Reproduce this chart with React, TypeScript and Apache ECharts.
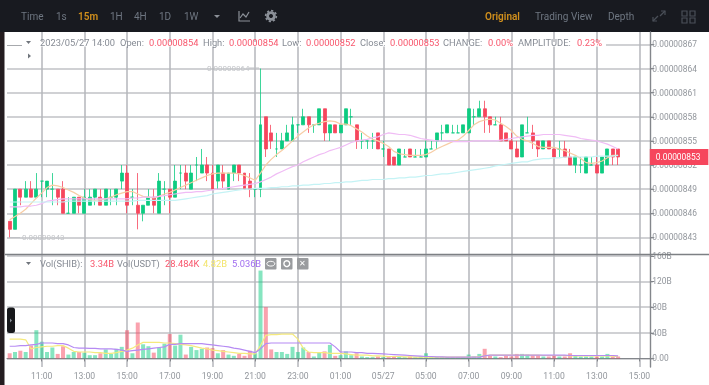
import React, { useEffect, useRef } from "react";
import * as echarts from "echarts";

// Price values are in units of 0.00000001. Rows: [open, close, low, high]
const candles: number[][] = [
  [845,844,843,845],[844,849,844,849],[849,848,847,849],[848,849,848,850],[849,848,848,850],
  [848,849,848,851],[850,850,848,850],[849,850,848,850],[849,849,847,851],[849,848,847,849],
  [849,846,846,850],[846,846,846,848],[846,848,846,848],[848,847,846,848],[846,848,846,849],
  [847,848,847,849],[848,849,847,849],[848,847,847,849],[847,849,847,849],[848,848,847,849],
  [848,849,847,849],[850,851,849,852],[851,847,846,852],[848,848,847,849],[847,846,844,851],
  [846,847,845,847],[847,848,847,849],[848,847,846,849],[846,850,846,851],[849,849,847,850],
  [849,848,846,849],[848,850,848,852],[851,851,849,852],[851,850,849,852],[849,851,849,852],
  [852,852,850,853],[851,852,851,854],[852,851,850,853],[851,849,849,852],[850,852,849,852],
  [851,850,849,852],[849,851,849,851],[851,852,850,852],[852,851,850,852],[851,849,849,851],
  [850,849,848,851],[849,849,848,849],[849,857,848,864],[858,854,853,858],[856,855,854,857],
  [854,854,853,856],[854,855,854,856],[855,856,855,857],[855,857,855,858],[857,857,856,857],
  [857,858,857,859],[858,857,856,858],[857,857,856,857],[857,859,857,859],[859,856,855,859],
  [856,857,855,857],[857,856,856,857],[856,857,856,857],[857,859,857,859],[858,858,857,859],
  [857,855,854,857],[855,855,854,856],[855,855,854,855],[855,855,854,856],[856,854,854,856],
  [854,854,853,855],[854,852,852,854],[853,852,852,853],[852,854,852,854],[853,853,853,854],
  [854,853,853,854],[853,853,853,854],[853,853,853,854],[853,854,853,855],[854,854,854,855],
  [855,856,854,856],[856,856,855,857],[856,857,856,857],[856,856,856,857],[856,856,856,857],
  [856,857,856,857],[856,859,856,859],[858,858,857,859],[858,859,858,860],[859,858,856,860],
  [858,857,856,858],[857,857,857,858],[857,855,855,858],[856,855,855,856],[855,854,854,856],
  [854,853,853,855],[853,857,853,857],[856,856,856,858],[856,855,854,857],[855,854,853,855],
  [854,855,854,855],[855,854,854,855],[854,853,853,854],[854,854,853,855],[854,853,853,855],
  [853,852,852,854],[852,853,851,853],[852,852,851,853],[851,853,851,853],[852,852,852,853],
  [852,851,851,853],[851,853,851,853],[852,854,852,854],[854,853,852,854],[854,853,852,854],
];

const ma7 = [
  845.2,845.6,846,846.5,847.2,847.9,848.5,849.2,849.5,849.4,
  849.2,848.9,848.6,848.2,847.9,847.7,847.6,847.7,847.8,848,
  848.3,848.5,848.7,848.7,848.4,848.1,848,847.9,848.1,848.4,
  848.6,848.9,849.2,849.5,849.8,850.1,850.4,850.7,850.9,851,
  851,851,851,850.9,850.7,850.4,850.1,851,852,852.7,
  853.3,853.8,854.4,855,855.6,856.1,856.6,857,857.2,857.4,
  857.5,857.4,857.1,857.1,856.9,856.5,856.1,855.6,855.2,855,
  854.7,854.3,853.7,853.4,853.3,853.2,853.2,853.2,853.3,853.6,
  854,854.3,854.6,854.9,855.1,855.6,856.3,857,857.4,857.6,
  857.7,857.6,857.2,856.8,856.3,855.6,855.2,855,854.7,854.3,
  854.2,854.2,854.2,854,853.8,853.5,853.2,852.8,852.3,852.2,
  852.3,852.5,852.9,853.2,853.2,
];
const ma25 = [
  846.8,846.8,846.8,846.9,846.9,847,847.2,847.5,847.6,847.7,
  847.8,847.8,847.8,847.8,847.8,847.8,847.8,847.8,847.8,847.8,
  847.8,847.8,847.8,847.9,847.9,848,848,848,848.1,848.2,
  848.3,848.4,848.5,848.6,848.6,848.7,848.7,848.8,848.9,849,
  849.1,849.2,849.3,849.4,849.5,849.6,849.7,849.9,850.2,850.5,
  850.9,851.2,851.5,851.8,852,852.4,852.7,853,853.3,853.5,
  853.8,854,854.2,854.5,854.8,855,855.1,855.2,855.4,855.5,
  855.8,856,855.9,855.8,855.8,855.7,855.5,855.3,855.2,855.1,
  855,855,855,854.9,854.9,854.9,854.9,855,855,855,
  855,855,855.1,855.2,855.3,855.4,855.5,855.6,855.7,855.7,
  855.8,855.8,855.8,855.8,855.7,855.6,855.5,855.3,855.2,855.1,
  855,854.8,854.6,854.3,854,
];
const ma99 = [
  847.4,847.4,847.4,847.4,847.4,847.4,847.4,847.4,847.4,847.4,
  847.4,847.5,847.5,847.5,847.5,847.5,847.5,847.5,847.5,847.5,
  847.5,847.5,847.5,847.5,847.6,847.6,847.6,847.6,847.6,847.6,
  847.6,847.6,847.7,847.8,847.9,848,848.1,848.2,848.4,848.5,
  848.6,848.7,848.8,848.9,849,849,849.1,849.1,849.1,849.2,
  849.2,849.3,849.3,849.4,849.4,849.5,849.5,849.6,849.6,849.7,
  849.7,849.8,849.8,849.9,849.9,850,850.1,850.1,850.2,850.2,
  850.2,850.3,850.3,850.4,850.4,850.5,850.5,850.6,850.7,850.7,
  850.8,850.9,850.9,851,851.1,851.2,851.3,851.4,851.5,851.6,
  851.7,851.9,852,852.1,852.2,852.3,852.4,852.4,852.6,852.7,
  852.8,852.8,852.9,852.9,853,853,853,853,853,853,
  853.1,853.1,853.1,853.1,853.2,
];

// Volumes, in billions
const volumes = [
  8,10,12,10,20,44,26,10,17,7,
  19,6,10,10,9,5,5,8,14,7,
  15,18,44,8,56,22,19,9,17,23,
  38,20,37,6,18,13,15,17,16,8,
  13,6,4,7,4,12,8,137,80,14,
  10,10,7,18,10,17,10,3,10,11,
  21,4,5,11,5,8,3,2,2,3,
  2,2,3,3,2,3,2,3,8,2,
  2,2,2,2,2,2,6,3,7,15,
  4,3,2,4,3,7,7,6,5,5,
  3,3,5,3,3,8,5,3,3,3,
  3,3,7,3,3,
];
const volAvgA = [
  30,30,30,29,15,17,18,19,19,20,
  20,16,11,10,10,10,9,9,8,8,
  9,11,13,16,21,25,25,25,25,24,
  24,23,22,21,20,18,16,15,13,12,
  11,10,9,8,8,7,7,20,36,37,
  37,38,38,38,30,16,10,9,9,9,
  8,8,8,7,6,5,5,5,4,4,
  3.5,3,3,3,2.5,2.5,2,2,2,2,
  2,2,2,2,2,2,2,2,3,4,
  5,5,5,5,5,5,5,5,5,5,
  4.5,4.5,4.5,4.5,4.5,4,4,4,4,4,
  4,4,4,3.5,3,
];
const volAvgB = [
  19,19,20,20,21,22,24,24,24,23,
  23,21,17,16,16,15.5,15.5,15,15,15,
  14,13,11,12,13,14,15,16,17,18,
  22,22,23,23,23,23,23,22,21,20,
  19,18,16,15,13,11,9,15,23,24,
  24,24,24,24,24,24,24,24,24,24,
  24,18,10,10,10,9,9,8,8,7.5,
  7,6.5,6,5.5,5,4.5,4,3.5,3,3,
  2.5,2.5,2,2,2,2,2,2,2,4,
  5,5,5,5,5,5,5,5,5,5,
  5,5,5,5,5,4.5,4.5,4.5,4.5,4.5,
  4.5,4.5,4.5,4.5,4,
];

const priceTicks = [843, 846, 849, 852, 855, 858, 861, 864, 867];
const volumeTicks = [0, 40, 80, 120, 160];
const lastPrice = 853;
const toolbarLeft: [string, number, boolean][] = [
  ["Time", 21, false], ["1s", 56, false], ["15m", 78, true], ["1H", 110, false],
  ["4H", 134, false], ["1D", 159, false], ["1W", 184, false],
];
const toolbarRight: [string, number, boolean][] = [
  ["Original", 485, true], ["Trading View", 535, false], ["Depth", 608, false],
];
const RED_TXT = "#f8566c";
const GREY_TXT = "#868b94";
const headerTexts: [string, number, string][] = [
  ["2023/05/27 14:00", 40, GREY_TXT], ["Open:", 120, GREY_TXT], ["0.00000854", 149, RED_TXT],
  ["High:", 203, GREY_TXT], ["0.00000854", 229, RED_TXT], ["Low:", 282, GREY_TXT],
  ["0.00000852", 306, RED_TXT], ["Close:", 360, GREY_TXT], ["0.00000853", 390, RED_TXT],
  ["CHANGE:", 443, GREY_TXT], ["0.00%", 488, RED_TXT], ["AMPLITUDE:", 518, GREY_TXT], ["0.23%", 577, RED_TXT],
];
const volumeTexts: [string, number, string][] = [
  ["Vol(SHIB):", 40, GREY_TXT], ["3.34B", 90, RED_TXT], ["Vol(USDT)", 117, GREY_TXT],
  ["28.484K", 165, RED_TXT], ["4.82B", 203, "#f3e56b"], ["5.036B", 232, "#a06cf0"],
];

// 09:30 onward, one category per 15 minutes; the picture's axis shows the date in place of 03:00
const categories = Array.from({ length: 121 }, (_, i) => {
  const m = 9 * 60 + 30 + i * 15;
  const hh = String(Math.floor(m / 60) % 24).padStart(2, "0");
  const mm = String(m % 60).padStart(2, "0");
  const t = `${hh}:${mm}`;
  return t === "03:00" ? "05/27" : t;
});
const isMajor = (i: number) => i >= 6 && (i - 6) % 8 === 0;

const GREEN = "#0ecb81";
const RED = "#f6465d";
const FONT = "Roboto, sans-serif";
const GRID_V = "#b4b6bb";
const GRID_H = "#c0c2c6";
const AXIS = "#83868b";
const AXIS_TXT = "#92969c";

const txt = (text: string, x: number, y: number, fill: string, size = 9.3, weight: any = 400, extra: any = {}) => ({
  type: "text", x, y, z: 50, silent: true,
  style: { text, fill, fontSize: size, fontWeight: weight, fontFamily: FONT, textVerticalAlign: "middle", verticalAlign: "middle", ...extra },
});

function buildGraphics() {
  const g: any[] = [];
  g.push({ type: "rect", z: -5, shape: { x: 0, y: 0, width: 709, height: 32 }, style: { fill: "#181a20" } });
  g.push({ type: "rect", z: -5, shape: { x: 0, y: 32, width: 4.5, height: 353 }, style: { fill: "#241d20" } });
  toolbarLeft.forEach(([t, x, on]) => g.push(txt(t, x, 16, on ? "#d08f1c" : "#6e7681", 10, on ? 600 : 400)));
  toolbarRight.forEach(([t, x, on]) => g.push(txt(t, x, 16, on ? "#d08f1c" : "#6e7681", 10, on ? 600 : 400)));
  const icon = { stroke: "#8b9098", lineWidth: 1.2, fill: "none" };
  g.push({ type: "polygon", shape: { points: [[214, 15], [220, 15], [217, 18]] }, style: { fill: "#8b9098" } });
  g.push({ type: "polyline", shape: { points: [[239, 11], [239, 21], [250, 21]] }, style: icon });
  g.push({ type: "polyline", shape: { points: [[240, 18], [243, 14], [246, 17], [249, 12]] }, style: icon });
  g.push({ type: "ring", shape: { cx: 271, cy: 16, r: 4.8, r0: 2 }, style: { fill: "#8b9098" } });
  g.push({ type: "circle", shape: { cx: 271, cy: 16, r: 5.4 }, style: { fill: "none", stroke: "#8b9098", lineWidth: 1.6, lineDash: [2.2, 2] } });
  const dim = { stroke: "#4a4f58", lineWidth: 1.2, fill: "none" };
  g.push({ type: "line", shape: { x1: 653, y1: 21, x2: 658, y2: 16 }, style: dim });
  g.push({ type: "polyline", shape: { points: [[653, 17], [653, 21], [657, 21]] }, style: dim });
  g.push({ type: "line", shape: { x1: 660, y1: 16, x2: 665, y2: 11 }, style: dim });
  g.push({ type: "polyline", shape: { points: [[661, 11], [665, 11], [665, 15]] }, style: dim });
  [[682, 11], [690, 11], [682, 18], [690, 18]].forEach(([x, y]) =>
    g.push({ type: "rect", shape: { x, y, width: 5, height: 5 }, style: dim }));

  // header row
  g.push({ type: "rect", z: 40, shape: { x: 7, y: 42, width: 599, height: 4.5 }, style: { fill: "#fff" } });
  g.push({ type: "line", z: 41, shape: { x1: 7, y1: 45.5, x2: 22, y2: 45.5 }, style: { stroke: "#a7a9ad", lineWidth: 1 } });
  g.push({ type: "polygon", z: 41, shape: { points: [[26, 41], [31, 41], [28.5, 44]] }, style: { fill: "#70757c" } });
  g.push({ type: "polygon", z: 41, shape: { points: [[28, 53.5], [31, 56], [28, 58.5]] }, style: { fill: "#70757c" } });
  headerTexts.forEach(([t, x, c]) => g.push(txt(t, x, 42, c)));
  g.push(txt("0.00000864", 207, 68, "#c4c6ca", 8));
  g.push({ type: "line", z: 41, shape: { x1: 249, y1: 68, x2: 259, y2: 68 }, style: { stroke: "#bfc1c5", lineWidth: 1 } });
  g.push({ type: "line", z: 41, shape: { x1: 10, y1: 237.5, x2: 20, y2: 237.5 }, style: { stroke: "#bfc1c5", lineWidth: 1 } });
  g.push(txt("0.00000843", 22, 237.5, "#c4c6ca", 8));

  // separator between panes
  g.push({ type: "line", z: 41, shape: { x1: 5, y1: 254.5, x2: 709, y2: 254.5 }, style: { stroke: "#7d8084", lineWidth: 1.6 } });

  // volume header row
  g.push({ type: "polygon", z: 41, shape: { points: [[26, 262], [31, 262], [28.5, 265]] }, style: { fill: "#70757c" } });
  volumeTexts.forEach(([t, x, c]) => g.push(txt(t, x, 263, c)));
  [265, 281, 297].forEach((x) =>
    g.push({ type: "rect", z: 41, shape: { x, y: 258, width: 11.5, height: 11.5, r: 1 }, style: { fill: "#9a9c9f" } }));
  g.push({ type: "ellipse", z: 42, shape: { cx: 270.8, cy: 263.7, rx: 4, ry: 2.4 }, style: { fill: "none", stroke: "#fff", lineWidth: 1 } });
  g.push({ type: "ring", z: 42, shape: { cx: 286.8, cy: 263.7, r: 3.6, r0: 2.2 }, style: { fill: "#fff" } });
  g.push(txt("✕", 302.8, 263.8, "#ffffff", 8, 400, { textAlign: "center" }));

  // collapse handle
  g.push({ type: "rect", z: 41, shape: { x: 7, y: 307.5, width: 8, height: 25.5, r: 2.5 }, style: { fill: "#17181b" } });
  g.push({ type: "polygon", z: 42, shape: { points: [[10, 318.5], [12, 320.5], [10, 322.5]] }, style: { fill: "#8b9098" } });
  return g;
}

const priceLabel = (v: number) => (v * 1e-8).toFixed(8);
const volLabel = (v: number) => (v === 0 ? "0.00" : `${v}B`);

const candleData = candles.map((c) =>
  c[0] === c[1]
    ? { value: c, itemStyle: { color: GREEN, color0: GREEN, borderColor: GREEN, borderColor0: GREEN } }
    : { value: c });
const volumeData = volumes.map((v, i) => ({
  value: v,
  itemStyle: { color: candles[i][1] >= candles[i][0] ? GREEN : RED, opacity: 0.5 },
}));

const lineSeries = (data: number[], color: string, axis: number, width = 1.2) => ({
  type: "line", data, xAxisIndex: axis, yAxisIndex: axis, showSymbol: false, silent: true,
  lineStyle: { color, width }, itemStyle: { color }, z: 5,
});

export default function App() {
  const ref = useRef<HTMLDivElement>(null);
  useEffect(() => {
    document.body.style.margin = "0";
    const chart = echarts.init(ref.current!, null, { renderer: "svg" });
    chart.setOption({
      animation: false,
      backgroundColor: "#ffffff",
      textStyle: { fontFamily: FONT },
      graphic: buildGraphics(),
      grid: [
        { left: 7, top: 32, width: 645.8, height: 222.5 },
        { left: 7, top: 255, width: 645.8, height: 112 },
      ],
      xAxis: [0, 1].map((idx) => ({
        type: "category", gridIndex: idx, data: categories, boundaryGap: true,
        axisLine: { show: idx === 1, lineStyle: { color: AXIS, width: 1.2 } },
        axisTick: { show: idx === 1, alignWithLabel: true, interval: (i: number) => isMajor(i), length: 3, lineStyle: { color: AXIS } },
        axisLabel: { show: idx === 1, interval: (i: number) => isMajor(i), color: AXIS_TXT, fontSize: 8.6, margin: 4, fontFamily: FONT, hideOverlap: false },
        splitLine: { show: true, alignWithLabel: true, interval: (i: number) => isMajor(i), lineStyle: { color: GRID_V, width: 1.5 } },
      })),
      yAxis: [
        {
          type: "value", gridIndex: 0, position: "right", offset: -2.5, min: 840.87, max: 868.55, scale: true,
          axisLine: { show: true, lineStyle: { color: AXIS, width: 1.4 } },
          axisTick: { show: true, length: 4, customValues: priceTicks, lineStyle: { color: AXIS } },
          axisLabel: { customValues: priceTicks, formatter: priceLabel, color: AXIS_TXT, fontSize: 8.4, margin: 2, fontFamily: FONT },
          splitLine: { show: true, lineStyle: { color: GRID_H, width: 1.5 } },
        },
        {
          type: "value", gridIndex: 1, position: "right", offset: -2.5, min: -13.4, max: 161.3,
          axisLine: { show: true, lineStyle: { color: AXIS, width: 1.4 } },
          axisTick: { show: true, length: 4, customValues: volumeTicks, lineStyle: { color: AXIS } },
          axisLabel: { customValues: volumeTicks, formatter: volLabel, color: AXIS_TXT, fontSize: 8.4, margin: 2, fontFamily: FONT },
          splitLine: { show: true, lineStyle: { color: GRID_H, width: 1.5 } },
        },
      ],
      series: [
        {
          type: "candlestick", data: candleData, xAxisIndex: 0, yAxisIndex: 0, barWidth: 3.4, silent: true,
          itemStyle: { color: GREEN, color0: RED, borderColor: GREEN, borderColor0: RED, borderWidth: 0.8 },
          markLine: {
            silent: true, symbol: "none", animation: false, z: 60,
            lineStyle: { color: "transparent", width: 0 },
            data: [{ yAxis: lastPrice }],
            label: {
              show: true, position: "end", distance: -3, formatter: () => priceLabel(lastPrice), color: "#fff",
              backgroundColor: RED, fontSize: 8.4, fontFamily: FONT, padding: [4, 8, 4, 6], opacity: 1,
            },
          },
        },
        lineSeries(ma7, "#f7cda5", 0),
        lineSeries(ma25, "#f0bcf5", 0),
        lineSeries(ma99, "#c4f3f5", 0),
        { type: "bar", data: volumeData, xAxisIndex: 1, yAxisIndex: 1, barWidth: 4, silent: true },
        lineSeries(volAvgA, "#f5ea7d", 1),
        lineSeries(volAvgB, "#b68af3", 1),
      ],
    });
    return () => chart.dispose();
  }, []);
  return (
    <div
      ref={ref}
      style={{ position: "absolute", left: 0, top: 0, width: 709, height: 385, filter: "blur(0.6px)" }}
    />
  );
}
